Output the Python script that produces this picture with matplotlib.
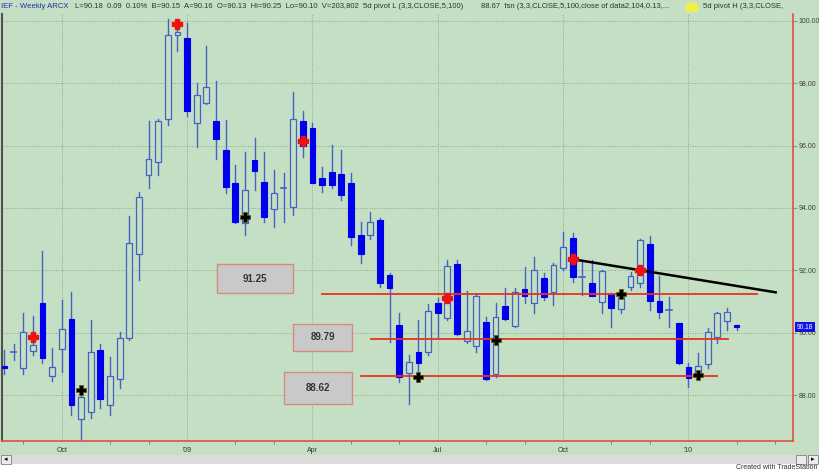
import numpy as np
import pandas as pd
import matplotlib.pyplot as plt
from matplotlib.patches import Rectangle

plt.rcParams['font.family'] = ['Liberation Sans', 'DejaVu Sans']

# IEF weekly bars (Aug 2008 - Feb 2010)
opens = [88.95, 89.38, 88.89, 89.42, 90.95, 88.63, 89.48, 90.45, 87.25, 87.48,
         89.45, 87.69, 88.51, 89.83, 92.52, 95.04, 95.48, 96.84, 99.54, 99.43,
         96.71, 97.35, 96.79, 95.86, 94.79, 93.51, 95.54, 94.84, 93.96, 94.65,
         94.04, 96.79, 96.55, 94.97, 95.16, 95.09, 94.79, 93.14, 93.14, 93.60,
         91.86, 90.25, 88.71, 89.38, 89.38, 90.95, 90.49, 92.21, 89.74, 89.59,
         90.36, 88.67, 90.86, 90.22, 91.40, 90.97, 91.75, 91.32, 92.07, 93.03,
         91.80, 91.61, 91.00, 91.25, 90.75, 91.46, 91.59, 92.85, 91.03, 90.73,
         90.31, 88.92, 88.65, 89.02, 89.86, 90.39, 90.25]
highs = [89.45, 89.64, 90.63, 90.54, 92.63, 89.53, 91.05, 91.32, 88.12, 90.41,
         89.64, 89.24, 90.04, 93.74, 94.52, 96.79, 96.85, 100.05, 99.85, 99.91,
         97.99, 99.20, 98.07, 96.82, 95.38, 95.80, 96.23, 95.80, 95.20, 95.11,
         97.70, 97.09, 96.71, 95.32, 96.02, 95.86, 95.11, 93.56, 93.88, 93.69,
         91.91, 90.63, 89.29, 90.41, 90.92, 91.13, 92.34, 92.34, 91.34, 91.24,
         90.50, 90.95, 91.43, 91.43, 92.12, 92.44, 91.91, 92.23, 93.24, 93.19,
         92.33, 92.33, 92.01, 91.27, 91.37, 91.96, 93.00, 93.10, 91.82, 91.16,
         90.33, 89.05, 89.37, 90.15, 90.68, 90.79, 90.25]
lows = [88.67, 89.13, 88.68, 89.29, 89.05, 88.46, 88.74, 87.37, 86.60, 87.27,
        87.59, 87.37, 88.25, 89.77, 91.70, 94.65, 95.05, 96.66, 99.01, 96.93,
        95.96, 97.32, 95.57, 94.47, 93.51, 93.14, 94.58, 93.56, 93.40, 93.56,
        93.78, 95.64, 94.79, 94.52, 94.63, 94.26, 92.82, 92.23, 93.01, 91.48,
        89.72, 88.44, 87.71, 88.65, 89.29, 89.88, 90.41, 89.93, 89.67, 89.40,
        88.49, 88.60, 90.41, 90.20, 90.97, 90.65, 91.05, 90.90, 92.03, 91.64,
        91.21, 91.19, 90.63, 90.20, 90.63, 91.37, 91.48, 90.73, 90.47, 90.20,
        89.02, 88.28, 88.51, 88.89, 89.69, 90.09, 90.10]
closes = [88.87, 89.38, 90.04, 89.61, 89.19, 88.90, 90.12, 87.69, 87.96, 89.38,
          87.87, 88.63, 89.85, 92.89, 94.36, 95.56, 96.77, 99.54, 99.63, 97.09,
          97.62, 97.86, 96.21, 94.68, 93.54, 94.58, 95.19, 93.72, 94.47, 94.65,
          96.85, 96.00, 94.81, 94.74, 94.74, 94.42, 93.08, 92.52, 93.54, 91.59,
          91.45, 88.60, 89.06, 89.05, 90.70, 90.65, 92.15, 89.96, 90.06, 91.18,
          88.54, 90.50, 90.44, 91.32, 91.19, 92.01, 91.16, 92.17, 92.76, 91.80,
          91.80, 91.19, 91.99, 90.79, 91.16, 91.82, 92.97, 91.03, 90.66, 90.73,
          89.05, 88.55, 88.94, 90.04, 90.63, 90.68, 90.18]
weeks = pd.date_range('2008-08-22', periods=82, freq='W-FRI')

# 5-day pivot markers
pivot_hi_idx = [3, 18, 31, 46, 59, 66]
pivot_hi_val = [89.88, 99.90, 96.15, 91.11, 92.36, 92.01]
pivot_lo_idx = [8, 25, 43, 51, 64, 72]
pivot_lo_val = [88.17, 93.72, 88.60, 89.77, 91.25, 88.65]

# support levels and descending trendline
levels = [91.25, 89.79, 88.62]
level_span = [(33, 78.1), (38.1, 75.1), (37, 74)]
trend_x = [59, 80.05]
trend_y = [92.36, 91.30]
last_price = 90.18

W, H = 820, 471
bg = '#c5dfc4'
wick_c = '#4262c4'
fill_c = '#0000ee'

fig = plt.figure(figsize=(W / 100, H / 100), dpi=100, facecolor='white')
fig.patches.append(Rectangle((0, 1 - 455 / H), 1, 455 / H, transform=fig.transFigure,
                             facecolor=bg, edgecolor='none', zorder=-5))
ax = fig.add_axes([2 / W, 1 - 441 / H, 791 / W, 427 / H])
ax.set_facecolor(bg)

x = np.arange(len(opens))
bw = 0.6
for i in x:
    o, h, l, c = opens[i], highs[i], lows[i], closes[i]
    ax.plot([i, i], [l, h], color=wick_c, lw=1.0, zorder=2)
    lo_b, hi_b = min(o, c), max(o, c)
    if c < o:
        ax.add_patch(Rectangle((i - bw / 2, lo_b), bw, hi_b - lo_b, facecolor=fill_c,
                               edgecolor=fill_c, lw=0.8, zorder=3))
    elif c == o:
        ax.plot([i - bw / 2, i + bw / 2], [o, o], color=wick_c, lw=1.2, zorder=3)
    else:
        ax.add_patch(Rectangle((i - bw / 2, lo_b), bw, hi_b - lo_b, facecolor=bg,
                               edgecolor=wick_c, lw=0.9, zorder=3))

for lv, (a, b) in zip(levels, level_span):
    ax.plot([a, b], [lv, lv], color='#e8321e', lw=1.3, zorder=4)
ax.plot(trend_x, trend_y, color='black', lw=1.8, zorder=4)

ax.plot(pivot_hi_idx, pivot_hi_val, 'P', color='#f01010', ms=6.5, mec='#f01010', zorder=5)
ax.plot(pivot_lo_idx, pivot_lo_val, 'P', color='black', ms=6.5, mec='#6a5a00', mew=0.5, zorder=5)

# price boxes
boxes = [(22.1, 91.27, 7.9, 0.93), (30.0, 89.42, 6.1, 0.87), (29.0, 87.72, 7.1, 1.03)]
for (bx, by, bwid, bh), lv in zip(boxes, levels):
    ax.add_patch(Rectangle((bx, by), bwid, bh, facecolor='#c9c9c9', edgecolor='#d98a80',
                           lw=1.0, zorder=6))
    ax.text(bx + bwid / 2, by + bh / 2, f'{lv:.2f}', ha='center', va='center',
            fontsize=7, fontweight='bold', color='#333333', zorder=7)

ax.set_xlim(-0.2, 81.85)
ax.set_ylim(86.54, 100.21)

# axis ticks from the weekly dates
months = [i for i in range(1, len(weeks)) if weeks[i].month != weeks[i - 1].month]
quarters = [i for i in months if weeks[i].month in (1, 4, 7, 10)]
qlabels = [("'" + weeks[i].strftime('%y')) if weeks[i].month == 1 else weeks[i].strftime('%b')
           for i in quarters]
ax.set_xticks(quarters)
ax.set_xticklabels(qlabels)
ax.set_xticks(months, minor=True)
ax.tick_params(axis='x', which='major', length=0, labelsize=5, pad=4, labelcolor='#303030')
ax.tick_params(axis='x', which='minor', length=2, color='#707070')

ax.yaxis.tick_right()
ax.set_yticks(np.arange(88, 101, 2))
ax.set_yticklabels([f'{v:.2f}' for v in np.arange(88, 101, 2)])
ax.tick_params(axis='y', length=3, color='#909090', labelsize=5, labelcolor='#404040', pad=1)

ax.grid(True, color='#8aa88a', ls=(0, (1, 1.5)), lw=0.7)
ax.set_axisbelow(True)
ax.spines['top'].set_visible(False)
ax.spines['right'].set_color('#e05040')
ax.spines['bottom'].set_color('#e05040')
ax.spines['right'].set_linewidth(1.2)
ax.spines['bottom'].set_linewidth(1.2)
ax.spines['left'].set_color('#505050')
ax.spines['left'].set_linewidth(1.5)

# last price tag
ax.text(1.005, (last_price - 86.54) / (100.21 - 86.54), f'{last_price:.2f}', transform=ax.transAxes,
        ha='left', va='center', fontsize=4.8, color='white',
        bbox=dict(boxstyle='square,pad=0.25', fc='#1010e8', ec='none'), clip_on=False)

# header
hy = 1 - 7 / H
fig.text(1 / W, hy, 'IEF - Weekly ARCX', color='#2030b0', fontsize=5.6, va='center')
fig.text(75 / W, hy, 'L=90.18  0.09  0.10%  B=90.15  A=90.16  O=90.13  Hi=90.25  Lo=90.10  '
         'V=203,802  5d pivot L (3,3,CLOSE,5,100)', color='#303030', fontsize=5.5, va='center')
fig.text(481 / W, hy, '88.67  fsn (3,3,CLOSE,5,100,close of data2,104,0.13,...', color='#303030',
         fontsize=5.5, va='center')
fig.patches.append(Rectangle((686 / W, 1 - 12 / H), 12 / W, 9 / H, transform=fig.transFigure,
                             facecolor='#f0f040', edgecolor='none'))
fig.text(703 / W, hy, '5d pivot H (3,3,CLOSE,', color='#303030', fontsize=5.5, va='center')

# scrollbar
fig.patches.append(Rectangle((0, 1 - 464 / H), 1, 9 / H, transform=fig.transFigure,
                             facecolor='#dcdcdc', edgecolor='none'))
for x0 in (1, 796, 808):
    fig.patches.append(Rectangle((x0 / W, 1 - 464 / H), 10 / W, 9 / H, transform=fig.transFigure,
                                 facecolor='#ececec', edgecolor='#808080', lw=0.6))
fig.text(6 / W, 1 - 459.5 / H, '\u25c2', fontsize=5, ha='center', va='center', color='black')
fig.text(813 / W, 1 - 459.5 / H, '\u25b8', fontsize=5, ha='center', va='center', color='black')
fig.text(818 / W, 1 - 467.5 / H, 'Created with TradeStation', fontsize=5, ha='right',
         va='center', color='#303030')

fig.savefig('out.png', dpi=100, facecolor=fig.get_facecolor())
